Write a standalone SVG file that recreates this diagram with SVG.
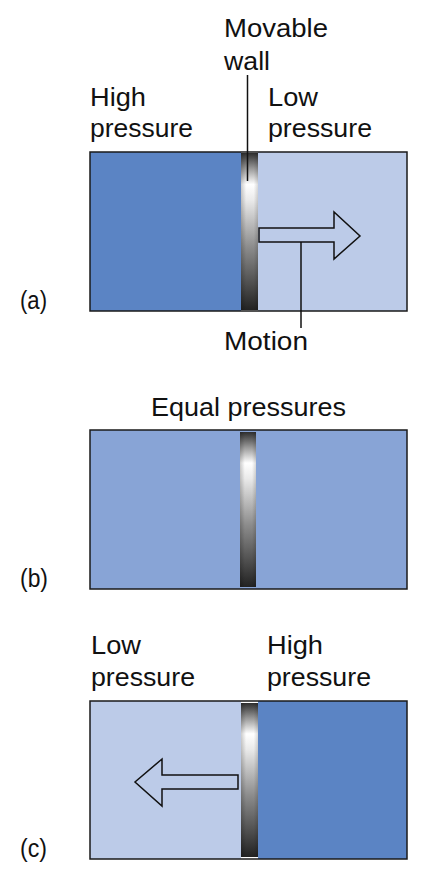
<svg xmlns="http://www.w3.org/2000/svg" width="432" height="877" viewBox="0 0 432 877">
<defs>
<linearGradient id="wallg" x1="0" y1="0" x2="0" y2="1">
<stop offset="0" stop-color="#2e2e2e"/>
<stop offset="0.1" stop-color="#9a9a9a"/>
<stop offset="0.2" stop-color="#ffffff"/>
<stop offset="0.3" stop-color="#eaeaea"/>
<stop offset="0.6" stop-color="#8c8c8c"/>
<stop offset="0.85" stop-color="#4a4a4a"/>
<stop offset="1" stop-color="#222"/>
</linearGradient>
<linearGradient id="wallh" x1="0" y1="0" x2="1" y2="0">
<stop offset="0" stop-color="#000" stop-opacity="0.2"/>
<stop offset="0.3" stop-color="#000" stop-opacity="0"/>
<stop offset="0.75" stop-color="#000" stop-opacity="0"/>
<stop offset="1" stop-color="#000" stop-opacity="0.15"/>
</linearGradient>
</defs>
<style>
text{font-family:"Liberation Sans",Arial,sans-serif;font-size:25px;fill:#111}
.box{stroke:#1a1a1a;stroke-width:1.5}
.dark{fill:#5b84c4}
.light{fill:#bccbe8}
.mid{fill:#88a4d6}
.arrow{fill:#bccbe8;stroke:#111;stroke-width:1.5;stroke-linejoin:miter}
.lead{stroke:#111;stroke-width:1.5;fill:none}
</style>
<rect width="432" height="877" fill="#fff"/>

<g id="panel-a">
<rect x="90" y="152" width="151" height="159" class="dark"/>
<rect x="258" y="152" width="149" height="159" class="light"/>
<rect x="90" y="152" width="317" height="159" fill="none" class="box"/>
<rect x="241" y="153" width="17" height="157" fill="url(#wallg)"/>
<rect x="241" y="153" width="17" height="157" fill="url(#wallh)"/>
<polygon class="arrow" points="259,228 334,228 334,212 360,236 334,259 334,242 259,242"/>
<text x="90" y="106" textLength="56" lengthAdjust="spacingAndGlyphs">High</text>
<text x="90" y="137" textLength="103" lengthAdjust="spacingAndGlyphs">pressure</text>
<text x="268" y="106" textLength="50" lengthAdjust="spacingAndGlyphs">Low</text>
<text x="268" y="137" textLength="104" lengthAdjust="spacingAndGlyphs">pressure</text>
<text x="224" y="37" textLength="104" lengthAdjust="spacingAndGlyphs">Movable</text>
<text x="224" y="70" textLength="46" lengthAdjust="spacingAndGlyphs">wall</text>
<text x="224" y="350" textLength="84" lengthAdjust="spacingAndGlyphs">Motion</text>
<text x="20" y="309" textLength="27" lengthAdjust="spacingAndGlyphs">(a)</text>
</g>

<g id="panel-b">
<rect x="90" y="430" width="317" height="159" class="mid box"/>
<rect x="240" y="432" width="16" height="155" fill="url(#wallg)"/>
<rect x="240" y="432" width="16" height="155" fill="url(#wallh)"/>
<text x="151" y="416" textLength="195" lengthAdjust="spacingAndGlyphs">Equal pressures</text>
<text x="20" y="587" textLength="28" lengthAdjust="spacingAndGlyphs">(b)</text>
</g>

<g id="panel-c">
<rect x="90" y="701" width="151" height="158" class="light"/>
<rect x="258" y="701" width="149" height="158" class="dark"/>
<rect x="90" y="701" width="317" height="158" fill="none" class="box"/>
<rect x="241" y="703" width="17" height="154" fill="url(#wallg)"/>
<rect x="241" y="703" width="17" height="154" fill="url(#wallh)"/>
<polygon class="arrow" points="238,775 162,775 162,759 135,782 162,806 162,789 238,789"/>
<text x="91" y="654" textLength="50" lengthAdjust="spacingAndGlyphs">Low</text>
<text x="91" y="686" textLength="104" lengthAdjust="spacingAndGlyphs">pressure</text>
<text x="267" y="654" textLength="56" lengthAdjust="spacingAndGlyphs">High</text>
<text x="267" y="686" textLength="104" lengthAdjust="spacingAndGlyphs">pressure</text>
<text x="20" y="857" textLength="27" lengthAdjust="spacingAndGlyphs">(c)</text>
</g>

<g id="connectors">
<line class="lead" x1="247.5" y1="75" x2="247.5" y2="181"/>
<line class="lead" x1="301" y1="242" x2="301" y2="328"/>
</g>
</svg>
